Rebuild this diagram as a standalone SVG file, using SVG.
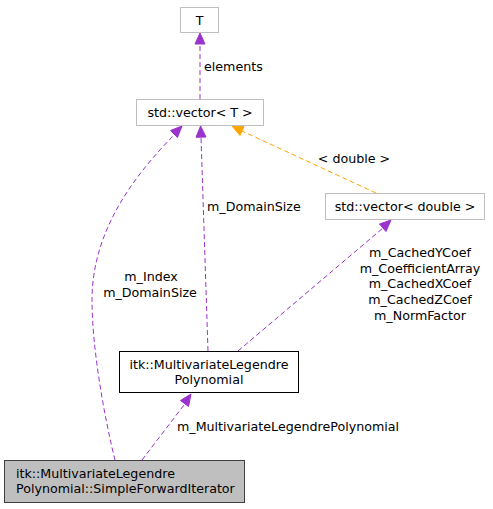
<svg xmlns="http://www.w3.org/2000/svg" width="493" height="509" viewBox="0 0 493 509">
<style>
text{font-family:"DejaVu Sans","Liberation Sans",sans-serif;font-size:12.67px;fill:#000}
.n{fill:#fff;stroke:#bfbfbf;stroke-width:1}
.m{text-anchor:middle}
.e{fill:none;stroke:#9a32cd;stroke-width:1;stroke-dasharray:5,3}
.o{fill:none;stroke:#ffa500;stroke-width:1;stroke-dasharray:5,3}
.ah{fill:#9a32cd;stroke:#9a32cd}
.oh{fill:#ffa500;stroke:#ffa500}
</style>
<rect width="493" height="509" fill="#fff"/>
<g id="connectors">
<path class="e" d="M200,99 L200,44"/>
<polygon class="ah" points="200,33 205,44 195,44"/>
<text x="204" y="71">elements</text>
<path class="o" d="M376,193 L242,131"/>
<polygon class="oh" points="232,126 244,126.5 240,135.5"/>
<text x="354" y="163" class="m">&lt; double &gt;</text>
<path class="e" d="M208,351 L201,137"/>
<polygon class="ah" points="200.6,126 206,137 196,137.3"/>
<text x="207" y="211">m_DomainSize</text>
<path class="e" d="M238,351 L383,228"/>
<polygon class="ah" points="391,220 386,231.5 379.5,224"/>
<text x="420" y="257" class="m">m_CachedYCoef</text>
<text x="420" y="273" class="m">m_CoefficientArray</text>
<text x="420" y="288" class="m">m_CachedXCoef</text>
<text x="420" y="304" class="m">m_CachedZCoef</text>
<text x="420" y="320" class="m">m_NormFactor</text>
<path class="e" d="M115,460 C105,420 92,350 92,300 C92,230 135,175 174,135"/>
<polygon class="ah" points="182,126 177.5,137.5 170.5,130.5"/>
<text x="151" y="281" class="m">m_Index</text>
<text x="150" y="297" class="m">m_DomainSize</text>
<path class="e" d="M142,460 L184,405"/>
<polygon class="ah" points="191,394 188.5,406.5 180.5,400.5"/>
<text x="177" y="431">m_MultivariateLegendrePolynomial</text>
</g>
<g id="T">
<rect class="n" x="180.5" y="7.5" width="38" height="25"/>
<text x="199.5" y="25" class="m">T</text>
</g>
<g id="vecT">
<rect class="n" x="136.5" y="99.5" width="127" height="26"/>
<text x="200" y="117" class="m">std::vector&lt; T &gt;</text>
</g>
<g id="vecD">
<rect class="n" x="325.5" y="193.5" width="159" height="26"/>
<text x="405" y="211" class="m">std::vector&lt; double &gt;</text>
</g>
<g id="poly">
<rect x="119.5" y="351.5" width="179" height="41" fill="#fff" stroke="#000"/>
<text x="209" y="369" class="m">itk::MultivariateLegendre</text>
<text x="209" y="384" class="m">Polynomial</text>
</g>
<g id="iter">
<rect x="4.5" y="460.5" width="240" height="42" fill="#bfbfbf" stroke="#404040"/>
<text x="16" y="478">itk::MultivariateLegendre</text>
<text x="16" y="493">Polynomial::SimpleForwardIterator</text>
</g>
</svg>
